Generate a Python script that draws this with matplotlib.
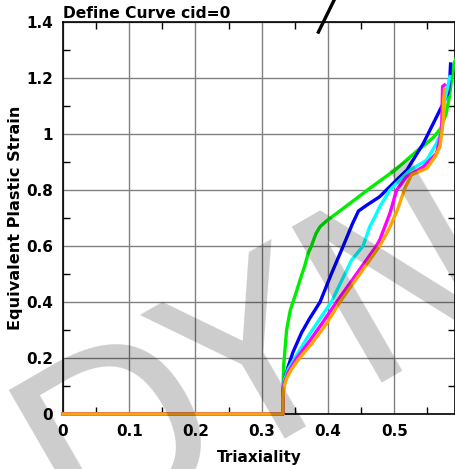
import matplotlib
matplotlib.use("Agg")
import matplotlib.pyplot as plt
from matplotlib.ticker import MultipleLocator, FuncFormatter

# ---- data ----
green_x = [0, 0.332, 0.332, 0.333, 0.3375, 0.343, 0.350, 0.358, 0.365, 0.370, 0.375, 0.378, 0.382, 0.388, 0.398, 0.433, 0.463, 0.501, 0.536, 0.548, 0.560, 0.570, 0.578, 0.583, 0.587, 0.590, 0.594]
green_y = [0, 0, 0.08, 0.17, 0.30, 0.37, 0.42, 0.48, 0.53, 0.574, 0.60, 0.62, 0.645, 0.669, 0.69, 0.752, 0.806, 0.871, 0.943, 0.965, 0.99, 1.02, 1.07, 1.13, 1.20, 1.25, 1.275]

blue_x = [0, 0.332, 0.332, 0.334, 0.340, 0.347, 0.360, 0.372, 0.388, 0.405, 0.423, 0.437, 0.446, 0.458, 0.478, 0.5036, 0.519, 0.544, 0.564, 0.572, 0.5816, 0.584, 0.585]
blue_y = [0, 0, 0.08, 0.12, 0.17, 0.22, 0.29, 0.34, 0.40, 0.50, 0.60, 0.68, 0.725, 0.745, 0.776, 0.836, 0.871, 0.967, 1.062, 1.10, 1.15, 1.205, 1.25]

cyan_x = [0, 0.332, 0.332, 0.334, 0.340, 0.350, 0.368, 0.385, 0.405, 0.4357, 0.453, 0.463, 0.470, 0.478, 0.4935, 0.506, 0.524, 0.549, 0.564, 0.570, 0.574, 0.576, 0.580, 0.584]
cyan_y = [0, 0, 0.08, 0.12, 0.16, 0.20, 0.27, 0.33, 0.40, 0.55, 0.60, 0.669, 0.70, 0.74, 0.80, 0.83, 0.871, 0.907, 0.967, 1.00, 1.05, 1.12, 1.16, 1.205]

magenta_x = [0, 0.332, 0.332, 0.334, 0.340, 0.353, 0.372, 0.390, 0.413, 0.443, 0.473, 0.478, 0.4935, 0.5036, 0.5187, 0.544, 0.564, 0.5716, 0.5725, 0.573, 0.576]
magenta_y = [0, 0, 0.07, 0.11, 0.15, 0.20, 0.26, 0.32, 0.40, 0.50, 0.60, 0.621, 0.717, 0.80, 0.848, 0.883, 0.931, 1.014, 1.121, 1.17, 1.175]

orange_x = [0, 0.332, 0.332, 0.334, 0.338, 0.345, 0.357, 0.375, 0.397, 0.418, 0.448, 0.478, 0.492, 0.505, 0.516, 0.526, 0.549, 0.562, 0.569, 0.5716, 0.574, 0.5745, 0.576]
orange_y = [0, 0, 0.06, 0.10, 0.13, 0.16, 0.20, 0.25, 0.32, 0.40, 0.50, 0.60, 0.66, 0.73, 0.806, 0.854, 0.877, 0.92, 0.955, 1.00, 1.05, 1.12, 1.16]

black_x = [0.3855, 0.4200]
black_y = [1.364, 1.530]

x_ticks = [0, 0.1, 0.2, 0.3, 0.4, 0.5]
y_ticks = [0, 0.2, 0.4, 0.6, 0.8, 1.0, 1.2, 1.4]

title_text = "Define Curve cid=0"
x_label = "Triaxiality"
y_label = "Equivalent Plastic Strain"
watermark = "DYNA"

# ---- figure ----
plt.rcParams['font.family'] = ['DejaVu Sans']
fig = plt.figure(figsize=(4.56, 4.69), dpi=100)
ax = fig.add_axes([63/456, 55/469, 392/456, 392/469])

for xs, ys, c in [(green_x, green_y, '#00ee00'), (blue_x, blue_y, '#0000ff'),
                  (cyan_x, cyan_y, '#00ffff'), (magenta_x, magenta_y, '#ff00ff'),
                  (orange_x, orange_y, '#ffa500')]:
    ax.plot(xs, ys, color=c, lw=2.4, solid_joinstyle='round', clip_on=False, zorder=3)
ax.plot(black_x, black_y, color='black', lw=2.4, clip_on=False, zorder=3)

ax.set_xlim(0, 0.5917)
ax.set_ylim(0, 1.4)
ax.set_xticks(x_ticks)
ax.set_yticks(y_ticks)
ax.xaxis.set_minor_locator(MultipleLocator(0.05))
ax.yaxis.set_minor_locator(MultipleLocator(0.1))
fmt = FuncFormatter(lambda v, p: ('%g' % round(v, 3)))
ax.xaxis.set_major_formatter(fmt)
ax.yaxis.set_major_formatter(fmt)
ax.tick_params(which='both', direction='in', top=True, right=True, labelsize=11, pad=7)
ax.tick_params(which='major', length=0)
ax.tick_params(which='minor', length=5, width=1)
for lab in ax.get_xticklabels() + ax.get_yticklabels():
    lab.set_fontweight('bold')
ax.grid(True, which='major', color='#808080', lw=1)
ax.set_axisbelow(True)
for s in ax.spines.values():
    s.set_linewidth(1.2)

ax.set_xlabel(x_label, fontsize=11, fontweight='bold', labelpad=8)
ax.set_ylabel(y_label, fontsize=11.6, fontweight='bold', labelpad=2)
ax.set_title(title_text, loc='left', fontsize=11.2, fontweight='bold', pad=3)

fig.text(75/456, -77/469, watermark, fontsize=178, fontweight='normal', rotation=30,
         rotation_mode='anchor', ha='left', va='baseline', color='black', alpha=0.2,
         zorder=10)

fig.savefig('out.png', dpi=100)
